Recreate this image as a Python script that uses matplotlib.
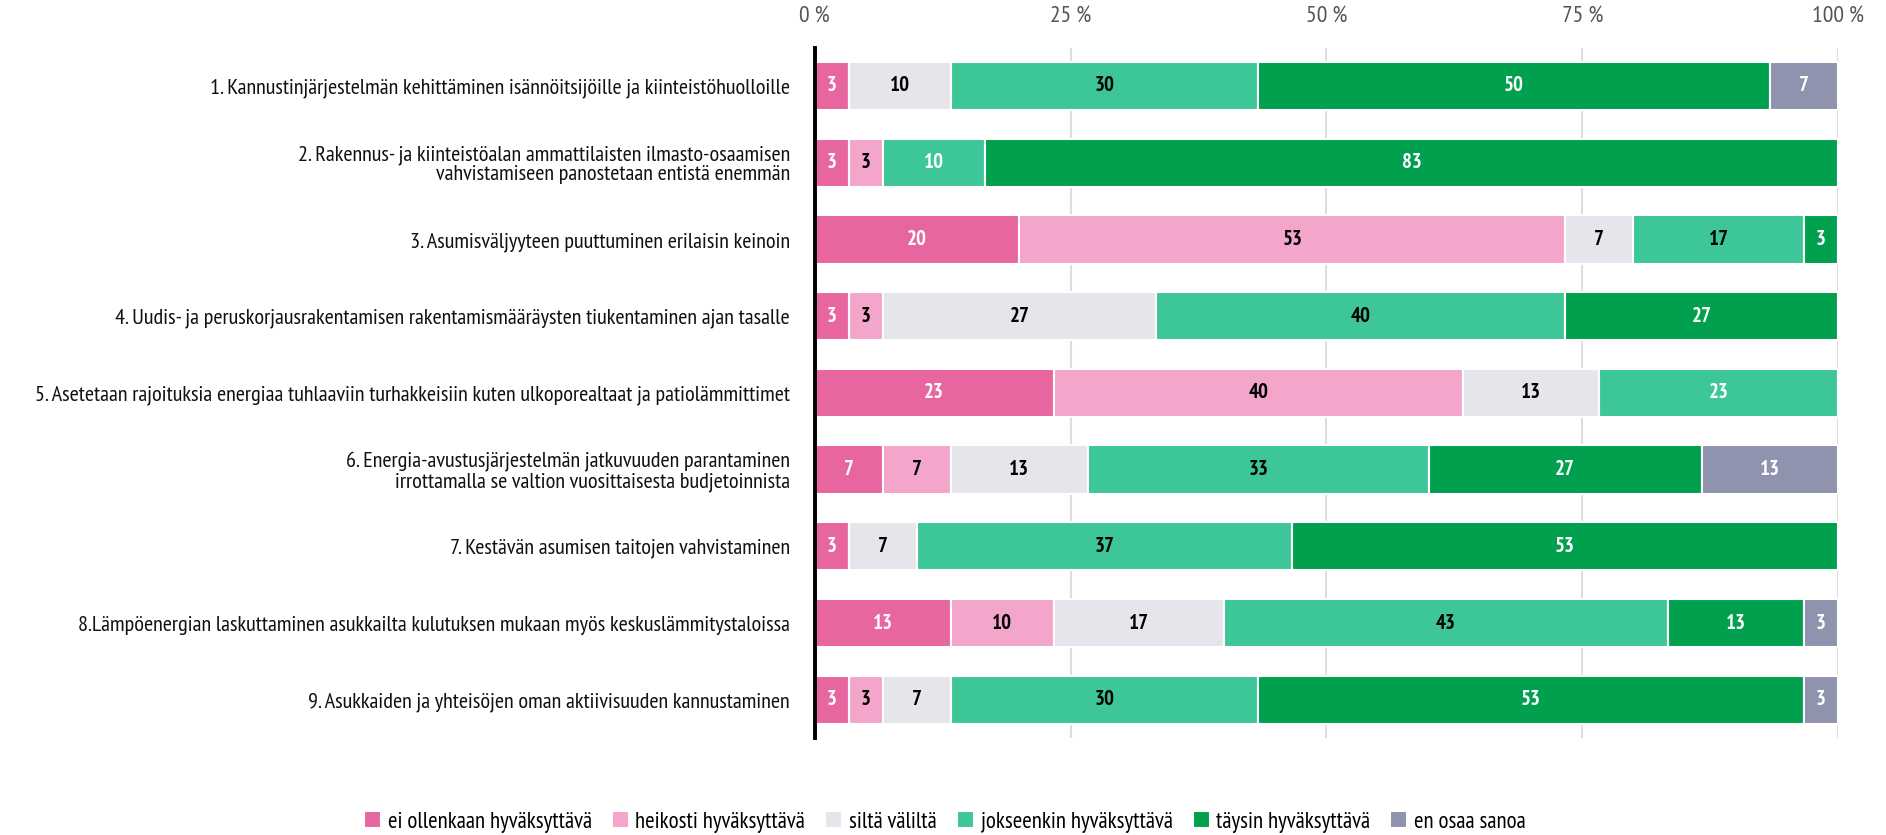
import matplotlib
matplotlib.use("Agg")
import matplotlib.pyplot as plt
import numpy as np

# Kapea fontti, varalla muita
plt.rcParams["font.family"] = ["PT Sans Narrow", "Fira Sans Condensed", "Asap Condensed", "DejaVu Sans"]

# Väittämät
categories = [
    "1. Kannustinjärjestelmän kehittäminen isännöitsijöille ja kiinteistöhuolloille",
    "2. Rakennus- ja kiinteistöalan ammattilaisten ilmasto-osaamisen\nvahvistamiseen panostetaan entistä enemmän",
    "3. Asumisväljyyteen puuttuminen erilaisin keinoin",
    "4. Uudis- ja peruskorjausrakentamisen rakentamismääräysten tiukentaminen ajan tasalle",
    "5. Asetetaan rajoituksia energiaa tuhlaaviin turhakkeisiin kuten ulkoporealtaat ja patiolämmittimet",
    "6. Energia-avustusjärjestelmän jatkuvuuden parantaminen\nirrottamalla se valtion vuosittaisesta budjetoinnista",
    "7. Kestävän asumisen taitojen vahvistaminen",
    "8.Lämpöenergian laskuttaminen asukkailta kulutuksen mukaan myös keskuslämmitystaloissa",
    "9. Asukkaiden ja yhteisöjen oman aktiivisuuden kannustaminen",
]

# Vastausten lukumäärät (30 vastaajaa)
n_respondents = 30
ei_ollenkaan = [1, 1, 6, 1, 7, 2, 1, 4, 1]
heikosti = [0, 1, 16, 1, 12, 2, 0, 3, 1]
silta_valilta = [3, 0, 2, 8, 4, 4, 2, 5, 2]
jokseenkin = [9, 3, 5, 12, 7, 10, 11, 13, 9]
taysin = [15, 25, 1, 8, 0, 8, 16, 4, 16]
en_osaa = [2, 0, 0, 0, 0, 4, 0, 1, 1]

series_names = ["ei ollenkaan hyväksyttävä", "heikosti hyväksyttävä", "siltä väliltä",
                "jokseenkin hyväksyttävä", "täysin hyväksyttävä", "en osaa sanoa"]
series_counts = [ei_ollenkaan, heikosti, silta_valilta, jokseenkin, taysin, en_osaa]
colors = ["#E8669F", "#F4A5CC", "#E7E5EC", "#3DC698", "#00A04F", "#8F93AE"]
label_colors = ["white", "black", "black", "black", "white", "white"]
white_exceptions = {(3, 1), (3, 4)}  # (sarja, rivi)

fig = plt.figure(figsize=(18.86, 8.35), dpi=100)
ax = fig.add_axes([0.432, 0.116, 0.5426, 0.827])

y = np.arange(len(categories))
left = np.zeros(len(categories))
for s, (name, counts, col) in enumerate(zip(series_names, series_counts, colors)):
    pct = np.array(counts) / n_respondents * 100
    bars = ax.barh(y, pct, left=left, height=0.63, color=col, edgecolor="white",
                   linewidth=1.5, label=name, zorder=2)
    labels = [f"{p:.0f}" if p > 0 else "" for p in pct]
    texts = ax.bar_label(bars, labels=labels, label_type="center",
                         fontsize=15, fontweight="bold", color=label_colors[s])
    for i, t in enumerate(texts):
        if (s, i) in white_exceptions:
            t.set_color("white")
    left += pct

ax.set_xlim(0, 100)
ax.set_ylim(len(categories) - 0.5, -0.5)
ax.set_yticks(y)
ax.set_yticklabels(categories, fontsize=16, color="#111111", linespacing=1.0)
ax.set_xticks([0, 25, 50, 75, 100])
ax.set_xticklabels(["0 %", "25 %", "50 %", "75 %", "100 %"])
ax.xaxis.tick_top()
ax.tick_params(axis="x", length=0, pad=14, labelsize=17, labelcolor="#555555")
ax.tick_params(axis="y", length=0, pad=18)
ax.grid(axis="x", color="#dddddd", linewidth=1.5, zorder=0)
ax.set_axisbelow(True)
for side in ["top", "right", "bottom"]:
    ax.spines[side].set_visible(False)
ax.spines["left"].set_linewidth(2.8)
ax.spines["left"].set_color("black")
ax.spines["left"].set_zorder(3)

fig.legend(loc="center", bbox_to_anchor=(0.501, 0.0156), ncol=6, frameon=False,
           fontsize=16.5, handlelength=0.74, handleheight=0.74, handletextpad=0.3,
           columnspacing=0.87, borderpad=0)

fig.savefig("out.png", dpi=100)
